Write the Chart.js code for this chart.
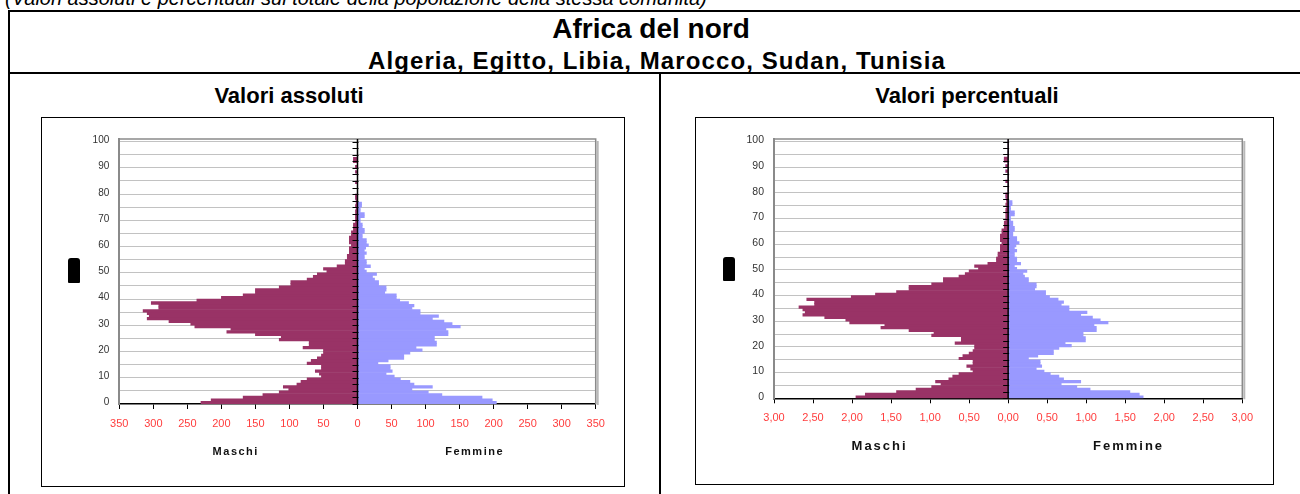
<!DOCTYPE html>
<html>
<head>
<meta charset="utf-8">
<script src="https://cdn.jsdelivr.net/npm/chart.js@4.4.1/dist/chart.umd.min.js"></script>
<style>
  html, body { margin: 0; padding: 0; background: #fff; }
  body { width: 1300px; height: 494px; overflow: hidden; position: relative;
         font-family: "Liberation Sans", Arial, sans-serif; color: #000; }
  .ln { position: absolute; background: #000; }
  .txt { position: absolute; line-height: 1; white-space: nowrap; }
  .ctr { position: absolute; line-height: 1; white-space: nowrap; text-align: center; font-weight: bold; }
  .frame { position: absolute; border: 1.5px solid #000; box-sizing: border-box; }
  .blob { position: absolute; background: #000; border-radius: 3px 3px 1px 1px; }
  canvas { position: absolute; }
</style>
</head>
<body>

<div class="txt" style="left:5px; top:-12px; font-size:20px; font-style:italic;">(Valori assoluti e percentuali sul totale della popolazione della stessa comunità)</div>

<div class="ln" style="left:8px; top:10px; width:1300px; height:2px;"></div>
<div class="ln" style="left:8px; top:10px; width:2px; height:490px;"></div>
<div class="ln" style="left:8px; top:72px; width:1300px; height:2px;"></div>
<div class="ln" style="left:659px; top:72px; width:2px; height:430px;"></div>

<div class="ctr" style="left:6px; width:1290px; top:15px; font-size:28px;">Africa del nord</div>
<div class="ctr" style="left:12px; width:1290px; top:48.5px; font-size:24px; letter-spacing:1.1px;">Algeria, Egitto, Libia, Marocco, Sudan, Tunisia</div>
<div class="ctr" style="left:-36px; width:650px; top:85px; font-size:22px;">Valori assoluti</div>
<div class="ctr" style="left:642px; width:650px; top:85px; font-size:22px;">Valori percentuali</div>

<div class="frame" style="left:41px; top:117px; width:584px; height:370px;"></div>
<div class="frame" style="left:695px; top:117px; width:579px; height:368px;"></div>
<div class="blob" style="left:68px; top:258px; width:12px; height:25px;"></div>
<div class="blob" style="left:723px; top:257px; width:12px; height:24px;"></div>

<canvas id="absChart" width="582" height="368" style="left:42px; top:118px;"></canvas>
<canvas id="pctChart" width="577" height="366" style="left:696px; top:118px;"></canvas>

<script>
// Age classes 0..100 (one bar per year of age)
const ages = Array.from({ length: 101 }, (_, i) => String(i));
const ageTickLabels = ['0', '10', '20', '30', '40', '50', '60', '70', '80', '90', '100'];

// Absolute numbers by age
const maschiAss = [
  230, 215, 168, 139, 115, 101, 109, 89, 83, 74,
  53, 56, 62, 53, 53, 74, 68, 59, 53, 50,
  50, 80, 71, 71, 115, 112, 150, 192, 186, 239,
  245, 277, 309, 306, 309, 315, 292, 292, 303, 236,
  200, 168, 150, 150, 115, 98, 98, 74, 65, 59,
  45, 50, 30, 18, 18, 15, 15, 12, 12, 12,
  9, 12, 12, 12, 9, 9, 6, 6, 6, 3,
  3, 3, 3, 3, 2, 3, 2, 2, 3, 3,
  0, 0, 0, 0, 3, 0, 0, 0, 3, 0,
  3, 0, 6, 6, 0, 0, 0, 0, 0, 0,
  0
];
const femmineAss = [
  204, 198, 183, 124, 104, 80, 110, 83, 77, 63,
  54, 42, 51, 48, 48, 30, 45, 68, 68, 77,
  95, 86, 116, 116, 113, 113, 133, 133, 130, 151,
  139, 127, 110, 119, 92, 92, 80, 83, 75, 62,
  57, 57, 40, 42, 42, 31, 31, 25, 22, 28,
  13, 10, 19, 13, 13, 10, 10, 13, 10, 12,
  16, 13, 13, 7, 7, 10, 10, 7, 7, 4,
  4, 10, 10, 4, 4, 6, 6, 0, 0, 0,
  0, 0, 0, 0, 0, 0, 0, 0, 0, 0,
  0, 0, 0, 0, 0, 0, 0, 0, 0, 0,
  0
];

// Percentages of the whole community by age
const maschiPerc = [
  1.95, 1.83, 1.43, 1.18, 0.98, 0.86, 0.93, 0.76, 0.71, 0.63,
  0.45, 0.48, 0.53, 0.45, 0.45, 0.63, 0.58, 0.50, 0.45, 0.43,
  0.43, 0.68, 0.60, 0.60, 0.98, 0.95, 1.27, 1.63, 1.58, 2.03,
  2.08, 2.35, 2.63, 2.60, 2.63, 2.68, 2.48, 2.48, 2.58, 2.01,
  1.70, 1.43, 1.27, 1.27, 0.98, 0.83, 0.83, 0.63, 0.55, 0.50,
  0.38, 0.43, 0.26, 0.15, 0.15, 0.13, 0.13, 0.10, 0.10, 0.10,
  0.08, 0.10, 0.10, 0.10, 0.08, 0.08, 0.05, 0.05, 0.05, 0.03,
  0.03, 0.03, 0.03, 0.03, 0.02, 0.03, 0.02, 0.02, 0.03, 0.03,
  0, 0, 0, 0, 0.03, 0, 0, 0, 0.03, 0,
  0.03, 0, 0.05, 0.05, 0, 0, 0, 0, 0, 0,
  0
];
const femminePerc = [
  1.73, 1.68, 1.56, 1.05, 0.88, 0.68, 0.93, 0.71, 0.65, 0.54,
  0.46, 0.36, 0.43, 0.41, 0.41, 0.26, 0.38, 0.58, 0.58, 0.65,
  0.81, 0.73, 0.99, 0.99, 0.96, 0.96, 1.13, 1.13, 1.10, 1.28,
  1.18, 1.08, 0.93, 1.01, 0.78, 0.78, 0.68, 0.71, 0.64, 0.53,
  0.48, 0.48, 0.34, 0.36, 0.36, 0.26, 0.26, 0.21, 0.19, 0.24,
  0.11, 0.08, 0.16, 0.11, 0.11, 0.08, 0.08, 0.11, 0.08, 0.10,
  0.14, 0.11, 0.11, 0.06, 0.06, 0.08, 0.08, 0.06, 0.06, 0.03,
  0.03, 0.08, 0.08, 0.03, 0.03, 0.05, 0.05, 0, 0, 0,
  0, 0, 0, 0, 0, 0, 0, 0, 0, 0,
  0, 0, 0, 0, 0, 0, 0, 0, 0, 0,
  0
];

// Value-axis tick labels (males to the left of zero, females to the right)
const assTickLabels = ['350', '300', '250', '200', '150', '100', '50', '0', '50', '100', '150', '200', '250', '300', '350'];
const percTickLabels = ['3,00', '2,50', '2,00', '1,50', '1,00', '0,50', '0,00', '0,50', '1,00', '1,50', '2,00', '2,50', '3,00'];
const sideCaptions = ['Maschi', 'Femmine'];

const FONT = '"Liberation Sans", Arial, sans-serif';
Chart.defaults.font.family = FONT;

const COL_M = '#993366';
const COL_F = '#9999FF';

// Plot frame, centre axis with its ticks, and the Maschi / Femmine captions
const pyramidDecor = {
  id: 'pyramidDecor',
  afterDatasetsDraw(chart, args, opts) {
    const { ctx, chartArea: a, scales: { x, y } } = chart;
    ctx.save();
    // drop shadow on the right edge
    ctx.strokeStyle = '#b8b8b8';
    ctx.lineWidth = 2;
    ctx.beginPath();
    ctx.moveTo(a.right + 2, a.top + 2);
    ctx.lineTo(a.right + 2, a.bottom + 1);
    ctx.stroke();
    // grey frame top / right
    ctx.strokeStyle = '#8a8a8a';
    ctx.lineWidth = 1.5;
    ctx.beginPath();
    ctx.moveTo(a.left, a.top);
    ctx.lineTo(a.right, a.top);
    ctx.lineTo(a.right, a.bottom);
    ctx.stroke();

    // centre axis at zero
    const x0 = x.getPixelForValue(0);
    ctx.strokeStyle = '#000';
    ctx.lineWidth = 1.5;
    ctx.beginPath();
    ctx.moveTo(x0, a.top);
    ctx.lineTo(x0, a.bottom);
    ctx.stroke();

    // small ticks on the centre axis every 2.5 years
    const p0 = y.getPixelForValue(0);
    const step = y.getPixelForValue(1) - p0;
    ctx.lineWidth = 1;
    for (let v = -0.5; v <= 100.5 + 1e-6; v += 2.5) {
      const py = Math.round(p0 + v * step) + 0.5;
      ctx.beginPath();
      ctx.moveTo(x0 - 5, py);
      ctx.lineTo(x0 + 1, py);
      ctx.stroke();
    }

    // captions under each half of the value axis
    ctx.fillStyle = '#111';
    ctx.font = 'bold ' + opts.size + 'px ' + FONT;
    ctx.letterSpacing = opts.spacing + 'px';
    ctx.textAlign = 'center';
    ctx.textBaseline = 'middle';
    sideCaptions.forEach((t, i) => {
      ctx.fillText(t, x.getPixelForValue(opts.at[i]) + opts.spacing / 2, a.bottom + opts.offset);
    });
    ctx.restore();
  }
};

function buildPyramid(canvasId, maschi, femmine, cfg) {
  const canvas = document.getElementById(canvasId);
  const W = canvas.width, H = canvas.height;
  return new Chart(canvas, {
    type: 'bar',
    data: {
      labels: ages,
      datasets: [
        { label: 'Maschi', data: maschi.map(v => -v), backgroundColor: COL_M,
          borderWidth: 0, barPercentage: 1, categoryPercentage: 1 },
        { label: 'Femmine', data: femmine, backgroundColor: COL_F,
          borderWidth: 0, barPercentage: 1, categoryPercentage: 1 }
      ]
    },
    options: {
      indexAxis: 'y',
      responsive: false,
      animation: false,
      devicePixelRatio: 1,
      layout: { padding: { left: 0, top: cfg.area.top, right: W - cfg.area.right, bottom: 0 } },
      plugins: {
        legend: { display: false },
        tooltip: { enabled: false },
        pyramidDecor: cfg.caption
      },
      scales: {
        x: {
          stacked: true,
          min: -cfg.max,
          max: cfg.max,
          z: 1,
          afterFit: s => { s.height = H - cfg.area.bottom; },
          ticks: {
            stepSize: cfg.step,
            autoSkip: false,
            maxRotation: 0,
            padding: cfg.tickPad,
            color: '#ff3d3d',
            font: { size: 11 },
            callback: (v, i) => cfg.tickLabels[i]
          },
          grid: {
            drawOnChartArea: false,
            drawTicks: true,
            tickLength: 5,
            tickColor: '#000',
            tickWidth: 1
          },
          border: { display: true, color: '#000', width: 1.5 }
        },
        y: {
          stacked: true,
          reverse: true,
          afterFit: s => { s.width = cfg.area.left; },
          ticks: {
            autoSkip: false,
            padding: 10,
            color: '#333',
            font: { size: cfg.ageFont },
            callback: (v, i) => (i % 10 === 0 ? ageTickLabels[i / 10] : '')
          },
          grid: {
            offset: true,
            drawTicks: false,
            lineWidth: 1,
            color: c => (c.index > 0 && c.index % 5 === 0 ? '#c2c2c2' : 'rgba(0,0,0,0)')
          },
          border: { display: true, color: '#8a8a8a', width: 2 }
        }
      }
    },
    plugins: [pyramidDecor]
  });
}

buildPyramid('absChart', maschiAss, femmineAss, {
  max: 350, step: 50, tickLabels: assTickLabels, tickPad: 8.7, ageFont: 10,
  area: { left: 77.3, top: 21, right: 553.7, bottom: 286 },
  caption: { size: 11, spacing: 1.5, offset: 47.7, at: [-180, 171] }
});

buildPyramid('pctChart', maschiPerc, femminePerc, {
  max: 3, step: 0.5, tickLabels: percTickLabels, tickPad: 8.4, ageFont: 10.5,
  area: { left: 78, top: 21, right: 546.3, bottom: 280.3 },
  caption: { size: 13, spacing: 2, offset: 48.4, at: [-1.66, 1.53] }
});
</script>
</body>
</html>
